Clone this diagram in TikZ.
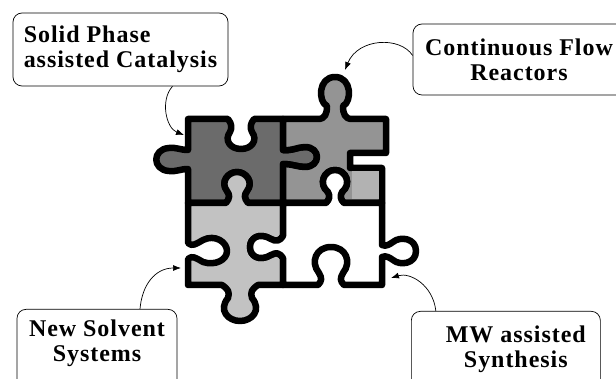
\documentclass[tikz,border=0pt]{standalone}
\usepackage{fontspec}
\setmainfont{Liberation Serif}
\usetikzlibrary{arrows.meta}

\definecolor{darkpiece}{gray}{0.42}
\definecolor{midpiece}{gray}{0.58}
\definecolor{palepiece}{gray}{0.70}
\definecolor{lightpiece}{gray}{0.76}

\tikzset{
  tag/.style={draw, rounded corners=9pt, line width=0.7pt, inner sep=0pt,
    font=\addfontfeatures{LetterSpace=4}\bfseries\fontsize{24}{25}\selectfont},
  piece/.style={draw=black, line width=6.5pt, line join=round},
  pointer/.style={->, >={Latex[length=8pt,width=6pt]}, line width=0.7pt},
}

\begin{document}
\begin{tikzpicture}[x=1pt,y=-1pt]
\useasboundingbox (0,0) rectangle (616,379);

% dark piece, top left
\path[piece, fill=darkpiece] (188,119) -- (228,119)
  .. controls (232,124) and (232,128) .. (230,132)
  .. controls (224,140) and (230,149) .. (241,149)
  .. controls (252,149) and (258,140) .. (252,132)
  .. controls (250,128) and (250,124) .. (254,119)
  -- (283,119) -- (283,150)
  .. controls (292,151) and (298,147) .. (305,147)
  .. controls (321,147) and (321,167) .. (305,167)
  .. controls (298,167) and (292,164) .. (283,164)
  -- (283,203) -- (248,203)
  .. controls (244,198) and (244,195) .. (247,191)
  .. controls (254,182) and (246,172) .. (237,172)
  .. controls (228,172) and (220,182) .. (227,191)
  .. controls (230,195) and (230,198) .. (226,203)
  -- (188,203) -- (188,169)
  .. controls (180,169) and (176,172) .. (169,171)
  .. controls (152,170) and (152,149) .. (169,148)
  .. controls (176,147) and (180,150) .. (188,150)
  -- cycle;

% middle grey piece, top right
\path[piece, fill=midpiece] (283,119) -- (318,119)
  .. controls (325,119) and (327,114) .. (327,106)
  .. controls (318,102) and (318,77) .. (335,77)
  .. controls (352,77) and (352,102) .. (343,106)
  .. controls (343,114) and (345,119) .. (352,119)
  -- (386,119) -- (386,153) -- (350,153) -- (350,168) -- (382,168)
  -- (382,203) -- (344,203)
  .. controls (340,199) and (340,196) .. (342,192)
  .. controls (352,184) and (346,170) .. (335,170)
  .. controls (324,170) and (318,184) .. (328,192)
  .. controls (330,196) and (330,199) .. (326,203)
  -- (283,203) -- (283,164)
  .. controls (292,164) and (298,167) .. (305,167)
  .. controls (321,167) and (321,147) .. (305,147)
  .. controls (298,147) and (292,151) .. (283,150)
  -- cycle;
\fill[palepiece] (352,171.5) rectangle (378.5,199.5);

% light piece, bottom left
\path[piece, fill=lightpiece] (188,203) -- (226,203)
  .. controls (230,198) and (230,195) .. (227,191)
  .. controls (220,182) and (228,172) .. (237,172)
  .. controls (246,172) and (254,182) .. (247,191)
  .. controls (244,195) and (244,198) .. (248,203)
  -- (283,203) -- (283,236)
  .. controls (280,241) and (276,242) .. (271,239)
  .. controls (259,232) and (250,238) .. (250,247)
  .. controls (250,256) and (259,262) .. (271,255)
  .. controls (276,252) and (280,253) .. (283,258)
  -- (283,285) -- (258,285)
  .. controls (252,289) and (250,292) .. (252,298)
  .. controls (262,310) and (252,321) .. (240,321)
  .. controls (228,321) and (218,310) .. (228,298)
  .. controls (230,292) and (228,289) .. (222,285)
  -- (188,285) -- (188,259)
  .. controls (192,255) and (196,258) .. (203,262)
  .. controls (215,266) and (227,260) .. (227,251)
  .. controls (227,242) and (215,234) .. (203,240)
  .. controls (196,244) and (192,247) .. (188,243)
  -- cycle;

% white piece, bottom right
\path[piece, fill=white] (283,203) -- (326,203)
  .. controls (330,199) and (330,196) .. (328,192)
  .. controls (318,184) and (324,170) .. (335,170)
  .. controls (346,170) and (352,184) .. (342,192)
  .. controls (340,196) and (340,199) .. (344,203)
  -- (382,203) -- (382,245)
  .. controls (386,247) and (390,244) .. (393,242)
  .. controls (400,236) and (416,238) .. (416,251)
  .. controls (416,264) and (400,266) .. (393,260)
  .. controls (390,258) and (386,255) .. (382,257)
  -- (382,285) -- (344,285)
  .. controls (340,281) and (340,278) .. (343,273)
  .. controls (352,262) and (346,247) .. (331,247)
  .. controls (316,247) and (310,262) .. (319,273)
  .. controls (322,278) and (322,281) .. (318,285)
  -- (283,285) -- (283,258)
  .. controls (280,253) and (276,252) .. (271,255)
  .. controls (259,262) and (250,256) .. (250,247)
  .. controls (250,238) and (259,232) .. (271,239)
  .. controls (276,242) and (280,241) .. (283,236)
  -- cycle;

% labels
\node[tag, minimum width=215pt, minimum height=73pt, align=left] (solid) at (120.5,49.5)
  {Solid Phase\\assisted Catalysis};
\node[tag, minimum width=212pt, minimum height=71pt, align=center] (flow) at (519,59.5)
  {Continuous Flow\\Reactors};
\node[tag, anchor=north, minimum width=160pt, text height=52pt, text depth=60pt, align=center] (solvent) at (97,309)
  {New Solvent\\Systems};
\node[tag, anchor=north west, minimum width=189pt, text height=56pt, text depth=60pt, align=center] (mw) at (411,311)
  {\hspace*{20pt}MW assisted\\\hspace*{20pt}Synthesis};

\coordinate (solidtip) at (184,135);
\coordinate (flowtip) at (345,70);
\coordinate (solventtip) at (181,268);
\coordinate (mwtip) at (391,278);

\draw[pointer] ([xshift=52pt]solid.south) .. controls (160,100) and (166,128) .. (solidtip);
\draw[pointer] ([yshift=4pt]flow.west) .. controls (400,36) and (358,38) .. (flowtip);
\draw[pointer] ([xshift=43pt]solvent.north) .. controls (142,285) and (155,268) .. (solventtip);
\draw[pointer] ([xshift=-70pt]mw.north) .. controls (433,285) and (410,272) .. (mwtip);
\end{tikzpicture}
\end{document}
